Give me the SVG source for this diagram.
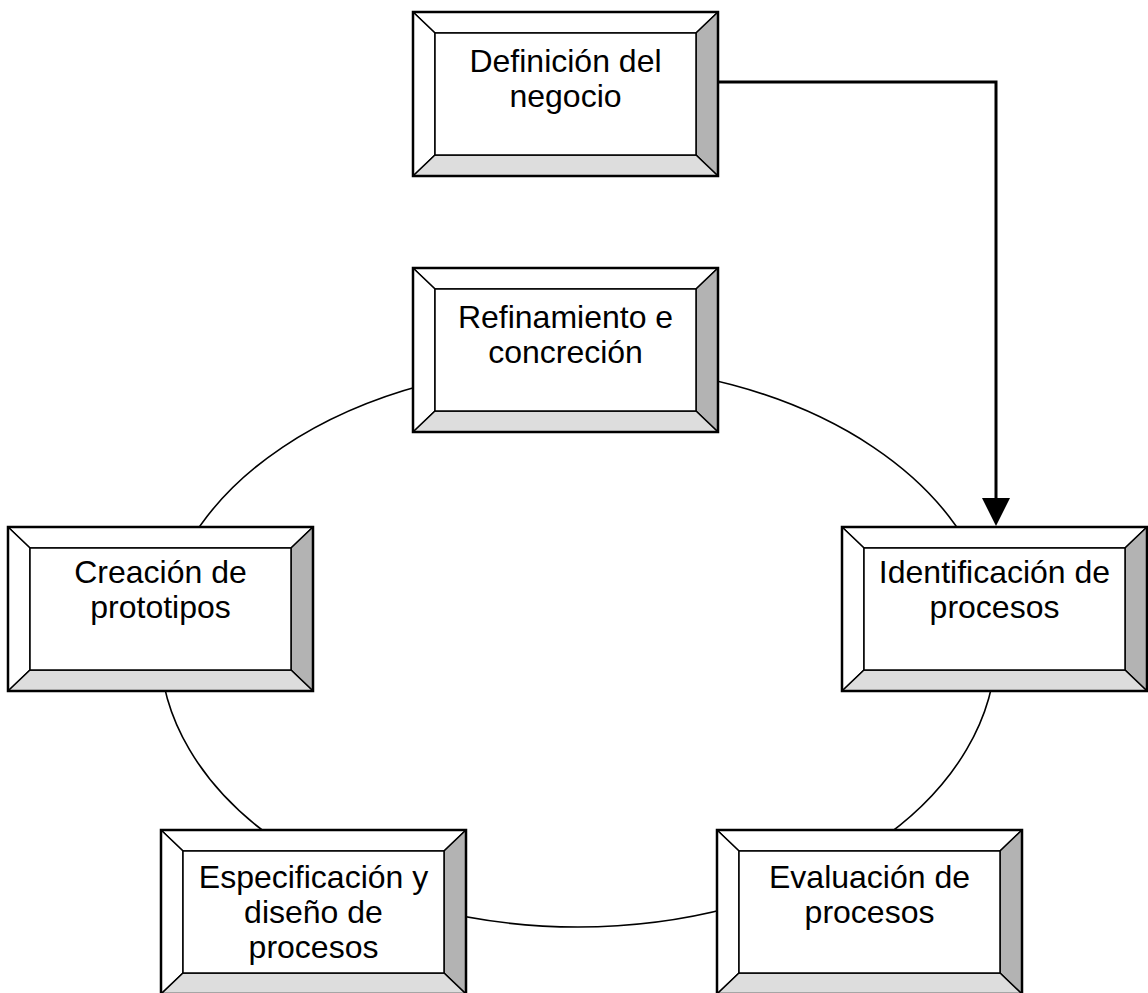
<svg xmlns="http://www.w3.org/2000/svg" xmlns:xlink="http://www.w3.org/1999/xlink" width="1148" height="993" viewBox="0 0 1148 993">
  <style>
    .face { fill: #ffffff; stroke: #000; stroke-width: 1.5; }
    .shade-r { fill: #b3b3b3; stroke: #000; stroke-width: 1.5; stroke-linejoin: round; }
    .shade-b { fill: #dddddd; stroke: #000; stroke-width: 1.5; stroke-linejoin: round; }
    .lit { fill: #ffffff; stroke: #000; stroke-width: 1.5; stroke-linejoin: round; }
    .frame { fill: none; stroke: #000; stroke-width: 2.5; }
    .label { font-family: "Liberation Sans", Arial, sans-serif; font-size: 32px; fill: #000; text-anchor: middle; }
    .cycle { fill: none; stroke: #000; stroke-width: 1.6; }
    .flow { fill: none; stroke: #000; stroke-width: 3; }
  </style>
  <defs>
    <!-- bevelled button: 305 x 164, bevel 22 (sides) / 21 (top, bottom) -->
    <g id="bevel">
      <polygon class="lit" points="0,0 305,0 283,21 22,21"/>
      <polygon class="lit" points="0,0 22,21 22,143 0,164"/>
      <polygon class="shade-r" points="305,0 305,164 283,143 283,21"/>
      <polygon class="shade-b" points="0,164 305,164 283,143 22,143"/>
      <rect class="face" x="22" y="21" width="261" height="122"/>
      <rect class="frame" x="0" y="0" width="305" height="164"/>
    </g>
  </defs>

  <rect width="1148" height="993" fill="#ffffff"/>

  <g id="connectors">
    <!-- process cycle, drawn under the buttons -->
    <ellipse class="cycle" cx="578" cy="646" rx="418" ry="281"/>
    <!-- entry flow into the cycle -->
    <path class="flow" d="M718,82 H996 V498"/>
    <polygon points="982,498 1010,498 996,526" fill="#000"/>
  </g>

  <g id="definicion" transform="translate(413,12)">
    <use xlink:href="#bevel"/>
    <text class="label" x="152.5" y="60">Definición del</text>
    <text class="label" x="152.5" y="95">negocio</text>
  </g>

  <g id="refinamiento" transform="translate(413,268)">
    <use xlink:href="#bevel"/>
    <text class="label" x="152.5" y="60">Refinamiento e</text>
    <text class="label" x="152.5" y="95">concreción</text>
  </g>

  <g id="identificacion" transform="translate(842,527)">
    <use xlink:href="#bevel"/>
    <text class="label" x="152.5" y="56">Identificación de</text>
    <text class="label" x="152.5" y="91">procesos</text>
  </g>

  <g id="creacion" transform="translate(8,527)">
    <use xlink:href="#bevel"/>
    <text class="label" x="152.5" y="56">Creación de</text>
    <text class="label" x="152.5" y="91">prototipos</text>
  </g>

  <g id="especificacion" transform="translate(161,830)">
    <use xlink:href="#bevel"/>
    <text class="label" x="152.5" y="58">Especificación y</text>
    <text class="label" x="152.5" y="93">diseño de</text>
    <text class="label" x="152.5" y="128">procesos</text>
  </g>

  <g id="evaluacion" transform="translate(717,830)">
    <use xlink:href="#bevel"/>
    <text class="label" x="152.5" y="58">Evaluación de</text>
    <text class="label" x="152.5" y="93">procesos</text>
  </g>
</svg>
